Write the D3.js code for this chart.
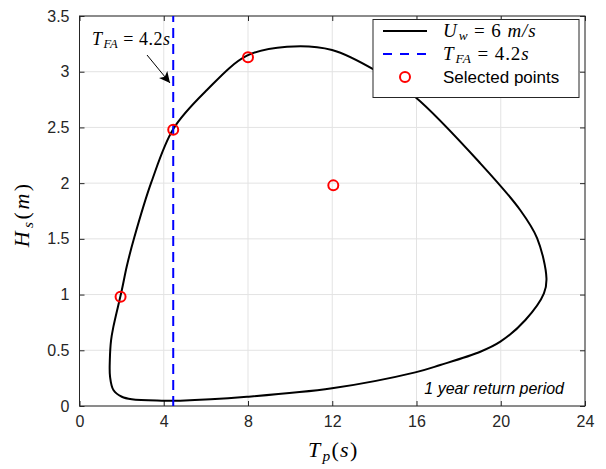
<!DOCTYPE html>
<html>
<head>
<meta charset="utf-8">
<script src="https://cdn.jsdelivr.net/npm/d3@7"></script>
<style>
  body { margin: 0; background: #fff; }
  svg text { font-family: "Liberation Sans", Arial, sans-serif; }
  svg text.math { font-family: "Liberation Serif", "Times New Roman", serif; }
</style>
</head>
<body>
<div id="chart"></div>
<script>
// contour of the 1 year return period, going round the loop
let contourTp = [1.61, 1.45, 1.44, 1.50, 1.61, 2.01, 2.24, 2.59, 3.42, 4.46, 6.05, 7.95, 9.85,
  11.99, 14.28, 15.94, 19.03, 20.93, 21.73, 22.17, 22.05, 21.17, 19.98, 19.03, 17.13, 15.94,
  11.99, 7.95, 4.78, 3.91, 2.48, 2.01];
let contourHs = [0.144, 0.263, 0.413, 0.592, 0.712, 1.041, 1.250, 1.505, 2.013, 2.489, 2.836, 3.144, 3.224,
  3.195, 2.986, 2.773, 2.178, 1.757, 1.505, 1.146, 1.011, 0.772, 0.577, 0.487, 0.368, 0.302,
  0.159, 0.083, 0.048, 0.048, 0.060, 0.083];

let pointTp = [1.95, 4.45, 8.0, 12.05];
let pointHs = [0.98, 2.48, 3.13, 1.98];

let tfaLine = 4.45;

let xTicks = [0, 4, 8, 12, 16, 20, 24];
let yTicks = [0, 0.5, 1, 1.5, 2, 2.5, 3, 3.5];

function renderChart() {
  let width = 606, height = 469;
  let margin = {left: 79.5, right: 21, top: 16, bottom: 63};

  let svg = d3.select("#chart").append("svg")
    .attr("width", width)
    .attr("height", height);

  let x = d3.scaleLinear().domain([0, 24]).range([margin.left, width - margin.right]);
  let y = d3.scaleLinear().domain([0, 3.5]).range([height - margin.bottom, margin.top]);

  let axisColor = "#262626";

  // grid
  let grid = svg.append("g").attr("stroke", "#e3e3e3").attr("stroke-width", 1);
  grid.selectAll(".gx").data(xTicks).enter().append("line")
    .attr("x1", d => x(d)).attr("x2", d => x(d))
    .attr("y1", y(0)).attr("y2", y(3.5));
  grid.selectAll(".gy").data(yTicks).enter().append("line")
    .attr("x1", x(0)).attr("x2", x(24))
    .attr("y1", d => y(d)).attr("y2", d => y(d));

  // axes (ticks inward, box on)
  let tickLen = 5;
  let fmt = d => String(d);
  svg.append("g").attr("transform", `translate(0,${y(0)})`)
    .call(d3.axisBottom(x).tickValues(xTicks).tickSizeInner(-tickLen).tickSizeOuter(0).tickPadding(10).tickFormat(fmt))
    .call(g => g.select(".domain").remove());
  svg.append("g").attr("transform", `translate(0,${y(3.5)})`)
    .call(d3.axisTop(x).tickValues(xTicks).tickSizeInner(-tickLen).tickSizeOuter(0).tickFormat(""))
    .call(g => g.select(".domain").remove());
  svg.append("g").attr("transform", `translate(${x(0)},0)`)
    .call(d3.axisLeft(y).tickValues(yTicks).tickSizeInner(-tickLen).tickSizeOuter(0).tickPadding(10).tickFormat(fmt))
    .call(g => g.select(".domain").remove());
  svg.append("g").attr("transform", `translate(${x(24)},0)`)
    .call(d3.axisRight(y).tickValues(yTicks).tickSizeInner(-tickLen).tickSizeOuter(0).tickFormat(""))
    .call(g => g.select(".domain").remove());

  svg.selectAll(".tick line").attr("stroke", axisColor);
  svg.selectAll(".tick text").attr("fill", axisColor).style("font-size", "16px")
    .style("font-family", "'Liberation Sans', Arial, sans-serif");

  svg.append("rect")
    .attr("x", x(0)).attr("y", y(3.5))
    .attr("width", x(24) - x(0)).attr("height", y(0) - y(3.5))
    .attr("fill", "none").attr("stroke", axisColor).attr("stroke-width", 1);

  // contour
  let contour = contourTp.map((t, i) => [t, contourHs[i]]);
  let line = d3.line()
    .x(d => x(d[0])).y(d => y(d[1]))
    .curve(d3.curveCatmullRomClosed.alpha(0.5));
  svg.append("path").datum(contour)
    .attr("d", line)
    .attr("fill", "none").attr("stroke", "#000").attr("stroke-width", 2);

  // T_FA line
  svg.append("line")
    .attr("x1", x(tfaLine)).attr("x2", x(tfaLine))
    .attr("y1", y(0)).attr("y2", y(3.5))
    .attr("stroke", "#0000ff").attr("stroke-width", 2)
    .attr("stroke-dasharray", "10,6");

  // selected points
  svg.selectAll(".pt").data(pointTp).enter().append("circle")
    .attr("cx", d => x(d)).attr("cy", (d, i) => y(pointHs[i]))
    .attr("r", 5)
    .attr("fill", "none").attr("stroke", "#ff0000").attr("stroke-width", 2);

  // math text helper
  function mathText(sel, parts, size) {
    parts.forEach(p => {
      let t = sel.append("tspan").text(p.t);
      if (p.it) t.style("font-style", "italic");
      if (p.sub) t.attr("baseline-shift", "-25%").style("font-size", (size * 0.7) + "px");
      if (p.sub) t.attr("dx", 1);
    });
  }

  // annotation
  let ann = svg.append("text").attr("class", "math")
    .attr("x", 92).attr("y", 45).style("font-size", "18px").style("letter-spacing", "0.5px")
    .attr("fill", "#000").attr("xml:space", "preserve");
  mathText(ann, [{t: "T", it: true}, {t: "FA", it: true, sub: true}, {t: " = 4.2"}, {t: "s", it: true}], 18);

  svg.append("defs").append("marker")
    .attr("id", "arrow").attr("viewBox", "0 0 10 10")
    .attr("refX", 10).attr("refY", 5)
    .attr("markerWidth", 11).attr("markerHeight", 11)
    .attr("markerUnits", "userSpaceOnUse")
    .attr("orient", "auto")
    .append("path").attr("d", "M0,0 L10,5 L0,10 L2.5,5 Z").attr("fill", "#000");
  svg.append("line")
    .attr("x1", 147).attr("y1", 55).attr("x2", 170).attr("y2", 83)
    .attr("stroke", "#000").attr("stroke-width", 1)
    .attr("marker-end", "url(#arrow)");

  // return period label
  svg.append("text")
    .attr("x", 564).attr("y", 394)
    .attr("text-anchor", "end")
    .style("font-size", "16px").style("font-style", "italic")
    .attr("fill", "#000")
    .text("1 year return period");

  // legend
  let lg = svg.append("g");
  lg.append("rect")
    .attr("x", 373).attr("y", 19.5).attr("width", 206).attr("height", 78)
    .attr("fill", "#fff").attr("stroke", axisColor).attr("stroke-width", 1);
  let rows = [31, 54, 77];
  lg.append("line").attr("x1", 383).attr("x2", 427).attr("y1", rows[0]).attr("y2", rows[0])
    .attr("stroke", "#000").attr("stroke-width", 2);
  lg.append("line").attr("x1", 383).attr("x2", 427).attr("y1", rows[1]).attr("y2", rows[1])
    .attr("stroke", "#0000ff").attr("stroke-width", 2).attr("stroke-dasharray", "9,8");
  lg.append("circle").attr("cx", 405).attr("cy", rows[2]).attr("r", 5)
    .attr("fill", "none").attr("stroke", "#ff0000").attr("stroke-width", 2);

  let l1 = lg.append("text").attr("class", "math").attr("x", 443).attr("y", rows[0] + 6)
    .style("font-size", "19px").style("letter-spacing", "0.9px")
    .attr("fill", "#000").attr("xml:space", "preserve");
  mathText(l1, [{t: "U", it: true}, {t: "w", it: true, sub: true}, {t: " = 6 "}, {t: "m/s", it: true}], 19);
  let l2 = lg.append("text").attr("class", "math").attr("x", 443).attr("y", rows[1] + 6)
    .style("font-size", "19px").style("letter-spacing", "0.9px")
    .attr("fill", "#000").attr("xml:space", "preserve");
  mathText(l2, [{t: "T", it: true}, {t: "FA", it: true, sub: true}, {t: " = 4.2"}, {t: "s", it: true}], 19);
  lg.append("text").attr("x", 443).attr("y", rows[2] + 6)
    .style("font-size", "17px").attr("fill", "#000")
    .text("Selected points");

  // axis labels
  let xl = svg.append("text").attr("class", "math")
    .attr("x", x(12) + 1).attr("y", 457).attr("text-anchor", "middle")
    .style("font-size", "22px").style("letter-spacing", "1.3px").attr("fill", "#000");
  mathText(xl, [{t: "T", it: true}, {t: "p", it: true, sub: true}, {t: "("}, {t: "s", it: true}, {t: ")"}], 22);

  let yl = svg.append("text").attr("class", "math")
    .attr("transform", `translate(29,${y(1.72)}) rotate(-90)`)
    .attr("text-anchor", "middle")
    .style("font-size", "22px").style("letter-spacing", "2.5px").attr("fill", "#000");
  mathText(yl, [{t: "H", it: true}, {t: "s", it: true, sub: true}, {t: "("}, {t: "m", it: true}, {t: ")"}], 22);
}

renderChart();
</script>
</body>
</html>
